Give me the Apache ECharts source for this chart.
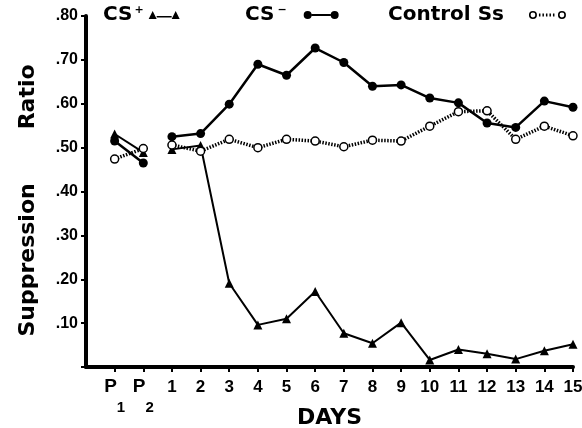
<!DOCTYPE html>
<html><head><meta charset="utf-8">
<script src="https://cdn.jsdelivr.net/npm/echarts@6/dist/echarts.min.js"></script>
<style>html,body{margin:0;padding:0;background:#fff}#c{width:582px;height:428px}</style>
</head><body><div id="c"></div>
<script>
// ---- data ----
const categories = ['', 'P1', 'P2', '1', '2', '3', '4', '5', '6', '7', '8', '9', '10', '11', '12', '13', '14', '15'];
const yTicks = [0.1, 0.2, 0.3, 0.4, 0.5, 0.6, 0.7, 0.8];
const csPlusPre = [0.531, 0.489];
const csPlusDays = [0.496, 0.505, 0.191, 0.096, 0.110, 0.172, 0.077, 0.054, 0.101, 0.016, 0.040, 0.030, 0.018, 0.037, 0.052];
const csMinusPre = [0.515, 0.465];
const csMinusDays = [0.525, 0.532, 0.599, 0.690, 0.665, 0.727, 0.694, 0.640, 0.643, 0.613, 0.602, 0.556, 0.546, 0.606, 0.592];
const controlPre = [0.474, 0.498];
const controlDays = [0.506, 0.492, 0.519, 0.500, 0.519, 0.515, 0.502, 0.517, 0.515, 0.549, 0.582, 0.584, 0.519, 0.549, 0.527];

// ---- helpers ----
const N = categories.length;
function padPre(a) { const r = new Array(N).fill('-'); r[1] = a[0]; r[2] = a[1]; return r; }
function padDays(a) { const r = new Array(N).fill('-'); a.forEach((v, i) => r[3 + i] = v); return r; }

const narrow = "'Liberation Sans Narrow','Liberation Sans',Arial,sans-serif";
const heavy = "'DejaVu Sans',sans-serif";

const iconTri = 'path://M0 8 L4 0 L8 8 Z M23 8 L27 0 L31 8 Z M8 5 L23 5 L23 6.6 L8 6.6 Z';
const iconDot = 'path://M0 4 A4 4 0 1 1 8 4 A4 4 0 1 1 0 4 Z M27 4 A4 4 0 1 1 35 4 A4 4 0 1 1 27 4 Z M8 3 L27 3 L27 5 L8 5 Z';
const iconOpen = 'path://M0 4 A4 4 0 1 1 8 4 A4 4 0 1 1 0 4 Z M1.6 4 A2.4 2.4 0 1 0 6.4 4 A2.4 2.4 0 1 0 1.6 4 Z M29 4 A4 4 0 1 1 37 4 A4 4 0 1 1 29 4 Z M30.6 4 A2.4 2.4 0 1 0 35.4 4 A2.4 2.4 0 1 0 30.6 4 Z M10 2.5 L11.5 2.5 L11.5 5.5 L10 5.5 Z M13.5 2.5 L15 2.5 L15 5.5 L13.5 5.5 Z M17 2.5 L18.5 2.5 L18.5 5.5 L17 5.5 Z M20.5 2.5 L22 2.5 L22 5.5 L20.5 5.5 Z M24 2.5 L25.5 2.5 L25.5 5.5 L24 5.5 Z';

const legendText = {
  color: '#000', fontFamily: heavy, fontWeight: 'bold', fontSize: 20,
  rich: {
    b: { fontFamily: heavy, fontWeight: 'bold', fontSize: 20, color: '#000' },
    bp: { fontFamily: heavy, fontWeight: 'bold', fontSize: 20, color: '#000', padding: [0, 20, 0, 0] },
    sup: { fontFamily: heavy, fontWeight: 'bold', fontSize: 11, color: '#000', padding: [0, 0, 9, 2] },
    supw: { fontFamily: heavy, fontWeight: 'bold', fontSize: 11, color: '#000', padding: [0, 12, 9, 3] }
  }
};
function mkLegend(name, left, icon, w, fmt) {
  return {
    data: [name], left: left, top: 5, align: 'right', icon: icon,
    itemWidth: w, itemHeight: 8, selectedMode: false,
    itemStyle: { color: '#000', borderWidth: 0 },
    formatter: fmt, textStyle: legendText, padding: 0
  };
}

const chart = echarts.init(document.getElementById('c'));
chart.setOption({
  animation: false,
  backgroundColor: '#fff',
  grid: { left: 86, right: 9, top: 16, bottom: 61, containLabel: false, outerBoundsMode: 'none' },
  legend: [
    mkLegend('CS+', 103, iconTri, 31, () => '{b|CS}{sup|+}'),
    mkLegend('CS-', 245, iconDot, 35, () => '{b|CS}{supw|\u2212}'),
    mkLegend('Control Ss', 388, iconOpen, 37, () => '{bp|Control Ss}')
  ],
  xAxis: {
    type: 'category', data: categories, boundaryGap: false,
    axisLine: { lineStyle: { color: '#000', width: 4 } },
    axisTick: { length: 5, lineStyle: { color: '#000', width: 2 }, interval: (i) => i > 0 },
    splitLine: { show: false },
    axisLabel: {
      interval: 0, margin: 10, color: '#000',
      fontFamily: narrow, fontWeight: 'bold', fontSize: 17,
      formatter: (v) => {
        if (v === '') return '';
        if (v[0] === 'P') return '{p|P}{s|' + v.slice(1) + '}';
        return '{n|' + v + '}';
      },
      rich: {
        n: { fontFamily: narrow, fontWeight: 'bold', fontSize: 17, lineHeight: 20, color: '#000' },
        p: { fontFamily: narrow, fontWeight: 'bold', fontSize: 19, lineHeight: 20, verticalAlign: 'top', color: '#000' },
        s: { fontFamily: narrow, fontWeight: 'bold', fontSize: 15, lineHeight: 20, padding: [42, 0, 0, 0], color: '#000' }
      }
    },
    name: 'DAYS', nameLocation: 'middle', nameGap: 40, nameMoveOverlap: false,
    nameTextStyle: { fontFamily: heavy, fontWeight: 'bold', fontSize: 22, color: '#000' }
  },
  yAxis: {
    type: 'value', min: 0, max: 0.8, interval: 0.1,
    axisLine: { show: true, lineStyle: { color: '#000', width: 4 } },
    axisTick: { show: true, length: 5, lineStyle: { color: '#000', width: 2 } },
    splitLine: { show: false },
    axisLabel: {
      margin: 8, color: '#000', fontFamily: narrow, fontWeight: 'bold', fontSize: 16,
      formatter: (v) => yTicks.some(t => Math.abs(t - v) < 1e-6) ? '.' + String(Math.round(v * 100)).padStart(2, '0') : ''
    },
    name: '{a|Suppression}{g| }{a|Ratio}{e| }', nameLocation: 'middle', nameGap: 47, nameRotate: 90, nameMoveOverlap: false,
    nameTextStyle: {
      fontFamily: heavy, fontWeight: 'bold', fontSize: 22, color: '#000',
      rich: {
        a: { fontFamily: heavy, fontWeight: 'bold', fontSize: 22, color: '#000' },
        g: { width: 54 },
        e: { width: 18 }
      }
    }
  },
  series: [
    { name: 'CS+', type: 'line', data: padPre(csPlusPre), symbol: 'triangle', symbolSize: 9,
      itemStyle: { color: '#000' }, lineStyle: { color: '#000', width: 2 } },
    { name: 'CS+', type: 'line', data: padDays(csPlusDays), symbol: 'triangle', symbolSize: 9,
      itemStyle: { color: '#000' }, lineStyle: { color: '#000', width: 2 } },
    { name: 'CS-', type: 'line', data: padPre(csMinusPre), symbol: 'circle', symbolSize: 9,
      itemStyle: { color: '#000' }, lineStyle: { color: '#000', width: 2.5 } },
    { name: 'CS-', type: 'line', data: padDays(csMinusDays), symbol: 'circle', symbolSize: 9,
      itemStyle: { color: '#000' }, lineStyle: { color: '#000', width: 2.5 } },
    { name: 'Control Ss', type: 'line', data: padPre(controlPre), symbol: 'circle', symbolSize: 8,
      itemStyle: { color: '#fff', borderColor: '#000', borderWidth: 1.5 }, lineStyle: { color: '#000', width: 3.5, type: [1.5, 1.5] } },
    { name: 'Control Ss', type: 'line', data: padDays(controlDays), symbol: 'circle', symbolSize: 8,
      itemStyle: { color: '#fff', borderColor: '#000', borderWidth: 1.5 }, lineStyle: { color: '#000', width: 3.5, type: [1.5, 1.5] } }
  ]
});
</script>
</body></html>
